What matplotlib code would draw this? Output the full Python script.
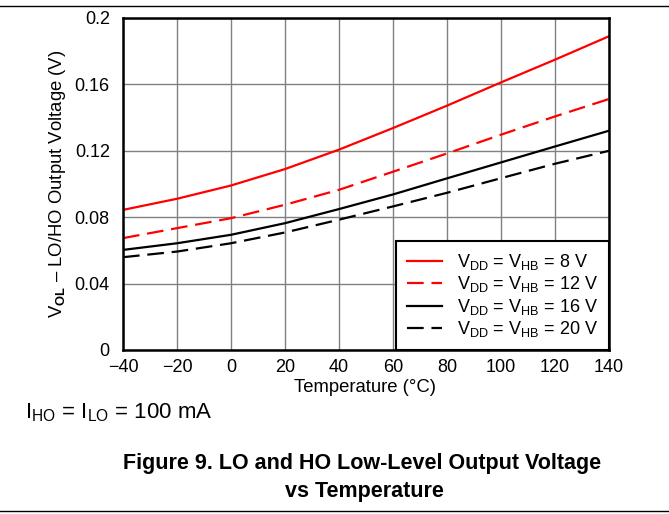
import matplotlib
matplotlib.use("Agg")
import matplotlib.pyplot as plt
from matplotlib.lines import Line2D

plt.rcParams['font.family'] = ['Liberation Sans', 'DejaVu Sans']
plt.rcParams['mathtext.fontset'] = 'custom'
plt.rcParams['mathtext.rm'] = 'Liberation Sans'
plt.rcParams['mathtext.it'] = 'Liberation Sans:italic'
plt.rcParams['mathtext.bf'] = 'Liberation Sans:bold'

temperature = [-40, -20, 0, 20, 40, 60, 80, 100, 120, 140]
vol_8v = [0.0844, 0.0911, 0.0991, 0.1090, 0.1207, 0.1337, 0.1472, 0.1612, 0.1749, 0.1890]
vol_12v = [0.0674, 0.0734, 0.0794, 0.0875, 0.0965, 0.1074, 0.1184, 0.1297, 0.1407, 0.1512]
vol_16v = [0.0603, 0.0643, 0.0694, 0.0764, 0.0849, 0.0937, 0.1034, 0.1130, 0.1226, 0.1321]
vol_20v = [0.0559, 0.0593, 0.0643, 0.0708, 0.0785, 0.0865, 0.0947, 0.1035, 0.1122, 0.1200]

series_labels = [r'V$_{\mathrm{DD}}$ = V$_{\mathrm{HB}}$ = 8 V',
                 r'V$_{\mathrm{DD}}$ = V$_{\mathrm{HB}}$ = 12 V',
                 r'V$_{\mathrm{DD}}$ = V$_{\mathrm{HB}}$ = 16 V',
                 r'V$_{\mathrm{DD}}$ = V$_{\mathrm{HB}}$ = 20 V']
x_ticks = [-40, -20, 0, 20, 40, 60, 80, 100, 120, 140]
y_ticks = [0, 0.04, 0.08, 0.12, 0.16, 0.2]
y_tick_labels = ['0', '0.04', '0.08', '0.12', '0.16', '0.2']
x_tick_labels = ['\u221240', '\u221220', '0', '20', '40', '60', '80', '100', '120', '140']

fig = plt.figure(figsize=(6.69, 5.14), dpi=100)
ax = fig.add_axes([123/669, 164/514, 486/669, 332/514])

dash = (0, (7.5, 3.5))
styles = [('red', '-'), ('red', dash), ('black', '-'), ('black', dash)]
for yv, (c, ls), lab in zip([vol_8v, vol_12v, vol_16v, vol_20v], styles, series_labels):
    ax.plot(temperature, yv, color=c, linestyle=ls, linewidth=1.6, label=lab)

ax.set_xlim(-40, 140)
ax.set_ylim(0, 0.2)
ax.set_xticks(x_ticks)
ax.set_xticklabels(x_tick_labels)
ax.set_yticks(y_ticks)
ax.set_yticklabels(y_tick_labels)
ax.tick_params(length=0, labelsize=13)
ax.tick_params(axis='y', pad=9.5)
ax.tick_params(axis='x', pad=6.5)
ax.grid(True, color='#808080', linewidth=1.0)
ax.set_axisbelow(True)
for s in ax.spines.values():
    s.set_linewidth(1.8)
    s.set_color('black')

ax.set_xlabel('Temperature (\u00b0C)', fontsize=13.3)
ax.set_ylabel('V$_{\\mathbf{OL}}$ \u2013 LO/HO Output Voltage (V)', fontsize=13.3)
ax.xaxis.set_label_coords(0.498, (350 - 387) / 332)
ax.xaxis.label.set_va('center')
ax.yaxis.set_label_coords((57 - 123) / 486, 0.5)
ax.yaxis.label.set_va('center')

leg = ax.legend(loc='lower right', fontsize=13, frameon=True, fancybox=False,
                edgecolor='black', framealpha=1, borderaxespad=0,
                handlelength=1.95, handletextpad=0.83, labelspacing=0.13,
                borderpad=0.6)
leg.get_frame().set_linewidth(1.5)

fig.text(25/669, 1 - 413/514, r'I$_{\mathrm{HO}}$ = I$_{\mathrm{LO}}$ = 100 mA',
         fontsize=16, ha='left', va='center')
fig.text(362/669, 1 - 463/514, 'Figure 9. LO and HO Low-Level Output Voltage',
         fontsize=15.5, fontweight='bold', ha='center', va='center')
fig.text(364/669, 1 - 491/514, 'vs Temperature',
         fontsize=15.5, fontweight='bold', ha='center', va='center')

fig.add_artist(Line2D([0, 1], [1 - 6/514, 1 - 6/514], color='black', linewidth=1.0,
                      transform=fig.transFigure))
fig.add_artist(Line2D([0, 1], [1 - 511/514, 1 - 511/514], color='black', linewidth=1.0,
                      transform=fig.transFigure))

fig.savefig('out.png', dpi=100)
